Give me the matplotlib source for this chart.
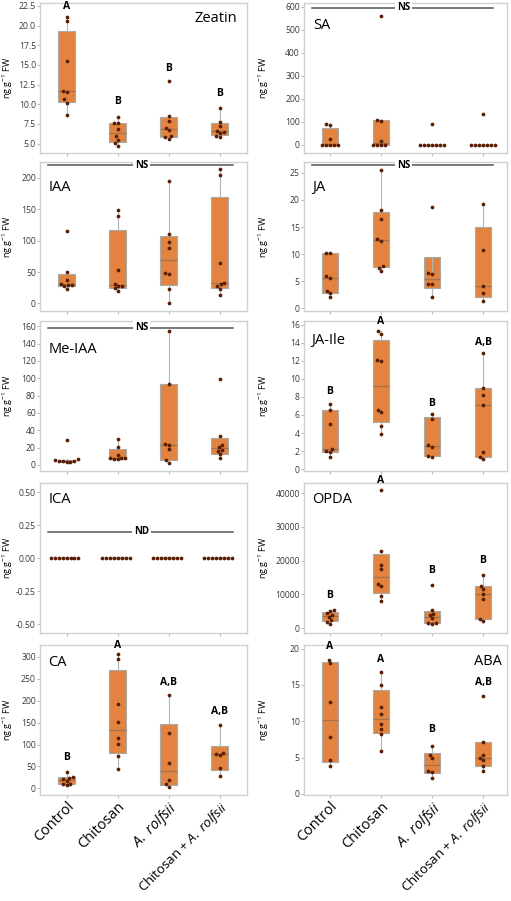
import numpy as np
import pandas as pd
import matplotlib
matplotlib.use('Agg')
import matplotlib.pyplot as plt
import seaborn as sns

plt.rcParams['font.family'] = ['Open Sans', 'DejaVu Sans']
plt.rcParams['mathtext.fontset'] = 'custom'
plt.rcParams['mathtext.rm'] = 'Open Sans'
plt.rcParams['mathtext.it'] = 'Open Sans:italic'
plt.rcParams['mathtext.bf'] = 'Open Sans:bold'

groups = ['Control', 'Chitosan', 'A. rolfsii', 'Chitosan + A. rolfsii']
group_labels = ['Control', 'Chitosan', r'$\mathit{A.}$ $\mathit{rolfsii}$',
                r'Chitosan + $\mathit{A.}$ $\mathit{rolfsii}$']

# hormone levels, ng g-1 FW, one list per treatment
zeatin = [[8.6, 10.2, 10.6, 11.6, 11.7, 15.5, 20.6, 21.1],
          [4.75, 5.05, 5.5, 5.95, 6.85, 7.55, 7.65, 8.4],
          [5.6, 5.8, 6.0, 6.7, 7.0, 7.9, 8.5, 13.0],
          [5.8, 6.0, 6.3, 6.45, 6.65, 7.25, 7.75, 9.5]]
sa = [[0, 0, 0, 0, 0, 25, 87, 90],
      [0, 0, 0, 0, 17, 103, 108, 559],
      [0, 0, 0, 0, 0, 0, 0, 88],
      [0, 0, 0, 0, 0, 0, 0, 135]]
iaa = [[23, 28, 29, 30, 31, 37, 50, 115],
       [20, 24, 27, 28, 31, 53, 139, 148],
       [0, 23.5, 47.5, 49, 88, 97, 111, 194],
       [13, 23.5, 28, 30.5, 33, 65, 205, 214]]
ja = [[2.0, 2.8, 3.2, 5.6, 5.9, 10.2, 10.25],
      [6.9, 7.5, 7.8, 12.4, 12.7, 16.5, 18.2, 25.6],
      [2.1, 4.4, 4.5, 6.4, 6.5, 18.65],
      [1.4, 2.8, 4.15, 10.8, 19.3]]
me_iaa = [[3.3, 3.8, 4.2, 4.5, 4.9, 5.6, 6.3, 28.4],
          [6.3, 6.8, 7.5, 8.1, 8.5, 11.4, 20.9, 30],
          [2.7, 5.3, 17.8, 22.7, 24.6, 92.9, 154],
          [7.6, 12.1, 15.9, 17.5, 20.5, 22.7, 33.7, 98.6]]
ja_ile = [[1.4, 1.85, 2.0, 2.2, 5.05, 6.6, 7.26],
          [3.9, 4.8, 6.3, 6.5, 12.0, 12.1, 15.0, 15.3],
          [1.4, 1.5, 2.5, 2.65, 5.6, 6.1],
          [1.1, 1.4, 1.85, 7.15, 8.25, 9.0, 12.9]]
ica = [[0, 0, 0, 0, 0, 0, 0, 0],
       [0, 0, 0, 0, 0, 0, 0, 0],
       [0, 0, 0, 0, 0, 0, 0, 0],
       [0, 0, 0, 0, 0, 0, 0, 0]]
opda = [[1280, 2000, 2500, 3460, 3800, 4440, 5000, 5430],
        [8100, 9580, 12540, 13040, 17480, 18770, 23000, 40800],
        [1300, 1480, 1700, 3000, 3900, 4250, 5430, 12840],
        [2170, 2700, 8590, 10000, 11650, 12600, 15700]]
ca = [[6.8, 9.5, 11, 17.5, 21.3, 24, 27, 36.5],
      [44.8, 73.7, 101, 115.4, 150.4, 191.4, 294.7, 307.6],
      [3.8, 10, 19, 58.5, 125.3, 212.7],
      [28.9, 46, 76, 79, 80.6, 144.3]]
aba = [[3.85, 4.6, 7.8, 12.6, 18.0, 18.5],
       [5.9, 8.2, 9.0, 9.6, 11.0, 12.0, 15.0, 16.8],
       [2.15, 3.07, 3.1, 4.9, 5.35, 6.6],
       [3.2, 3.84, 4.6, 4.9, 5.35, 7.19, 13.5]]

# significance letters
zeatin_sig = ['A', 'B', 'B', 'B']
ja_ile_sig = ['B', 'A', 'B', 'A,B']
opda_sig = ['B', 'A', 'B', 'B']
ca_sig = ['B', 'A', 'A,B', 'A,B']
aba_sig = ['A', 'A', 'B', 'A,B']

BOX = '#E2843F'
DOT = '#5a1e05'
W, H = 511, 901


def box_stats(vals):
    v = np.sort(np.asarray(vals, float))
    q1, med, q3 = np.percentile(v, [25, 50, 75], method='weibull')
    iqr = q3 - q1
    return dict(med=med, q1=q1, q3=q3,
                whislo=v[v >= q1 - 1.5 * iqr].min(),
                whishi=v[v <= q3 + 1.5 * iqr].max())


def axes_at(x0, x1, top, bottom):
    return fig.add_axes([x0 / W, 1 - bottom / H, (x1 - x0) / W, (bottom - top) / H])


# name, data, col, row, ylim, yticks, fmt, letters, letter heights, NS/ND, name placement
panels = [
    ('Zeatin', zeatin, 0, 0, (3.8, 22.8), np.arange(5, 22.6, 2.5), '%.1f',
     zeatin_sig, [22.4, 10.35, 14.5, 11.35], None, (0.95, 0.9, 'right')),
    ('IAA', iaa, 0, 1, (-12, 225), np.arange(0, 201, 50), '%d',
     None, None, ('NS', 220), (0.04, 0.83, 'left')),
    ('Me-IAA', me_iaa, 0, 2, (-7, 166), np.arange(0, 161, 20), '%d',
     None, None, ('NS', 158.5), (0.04, 0.81, 'left')),
    ('ICA', ica, 0, 3, (-0.565, 0.568), np.arange(-0.5, 0.51, 0.25), '%.2f',
     None, None, ('ND', 0.2), (0.04, 0.89, 'left')),
    ('CA', ca, 0, 4, (-15, 327), np.arange(0, 301, 50), '%d',
     ca_sig, [70.6, 326.6, 240.7, 174.7], None, (0.04, 0.88, 'left')),
    ('SA', sa, 1, 0, (-36, 614), np.arange(0, 601, 100), '%d',
     None, None, ('NS', 595), (0.048, 0.85, 'left')),
    ('JA', ja, 1, 1, (-0.5, 27), np.arange(0, 26, 5), '%d',
     None, None, ('NS', 26.4), (0.04, 0.83, 'left')),
    ('JA-Ile', ja_ile, 1, 2, (-0.2, 16.4), np.arange(0, 17, 2), '%d',
     ja_ile_sig, [8.55, 16.4, 7.26, 14.0], None, (0.035, 0.87, 'left')),
    ('OPDA', opda, 1, 3, (-1400, 43000), np.arange(0, 40001, 10000), '%d',
     opda_sig, [9680, 43600, 17090, 20050], None, (0.04, 0.89, 'left')),
    ('ABA', aba, 1, 4, (-0.15, 20.5), np.arange(0, 21, 5), '%d',
     aba_sig, [20.3, 18.5, 8.88, 15.4], None, (0.975, 0.89, 'right')),
]

col_x = [(40, 247), (304, 507)]
col_xlim = [(-0.52, 3.53), (-0.51, 3.47)]
col_ylab = [-0.12, -0.163]
rows = [(3.5, 153), (162, 311), (321, 471), (483, 633), (645, 795)]
xlab_size = [10.4, 10.4, 10.4, 9.5]

fig = plt.figure(figsize=(W / 100, H / 100), dpi=100)

for name, vals, col, row, ylim, yticks, fmt, sig, sig_y, ns, npos in panels:
    ax = axes_at(col_x[col][0], col_x[col][1], rows[row][0], rows[row][1])
    ax.bxp([box_stats(v) for v in vals], positions=range(4), widths=0.33,
           patch_artist=True, showfliers=False, showcaps=False, manage_ticks=False,
           boxprops=dict(facecolor=BOX, edgecolor='#a9a9a9', linewidth=0.8),
           whiskerprops=dict(color='#b5b5b5', linewidth=0.8),
           medianprops=dict(color='#a5704c', linewidth=0.9))
    df = pd.DataFrame({'group': np.repeat(groups, [len(v) for v in vals]),
                       'value': np.concatenate(vals)})
    sns.swarmplot(data=df, x='group', y='value', order=groups, ax=ax,
                  color=DOT, size=2.7, linewidth=0, zorder=4)

    ax.set_xlim(*col_xlim[col])
    ax.set_ylim(*ylim)
    ax.set_yticks(yticks)
    ax.set_yticklabels([fmt % t for t in yticks])
    ax.set_xticks(range(4))
    if row == 4:
        labs = ax.set_xticklabels(group_labels, rotation=45, ha='right',
                                  rotation_mode='anchor')
        for lab, fs in zip(labs, xlab_size):
            lab.set_fontsize(fs)
    else:
        ax.set_xticklabels([])
    ax.set_xlabel('')
    ax.set_ylabel('ng g$^{-1}$ FW', fontsize=6.5)
    ax.yaxis.set_label_coords(col_ylab[col], 0.5)
    ax.tick_params(axis='y', labelsize=6.2, labelcolor='#3a3a3a', length=2,
                   color='#bbbbbb', pad=1)
    ax.tick_params(axis='x', length=2, color='#bbbbbb', pad=1)
    for s in ax.spines.values():
        s.set_color('#d0d0d0')
        s.set_linewidth(1.0)

    ax.text(npos[0], npos[1], name, transform=ax.transAxes, ha=npos[2],
            va='center', fontsize=10.5)
    if sig is not None:
        for i, (s, y) in enumerate(zip(sig, sig_y)):
            ax.text(i, y, s, ha='center', va='center', fontsize=7.5,
                    fontweight='bold', clip_on=False, zorder=5)
    if ns is not None:
        tr = ax.get_yaxis_transform()
        ax.plot([0.04, 0.93], [ns[1], ns[1]], transform=tr, color='#555555',
                lw=1.1, zorder=3)
        ax.text(0.49, ns[1], ns[0], transform=tr, ha='center', va='center',
                fontsize=7, fontweight='bold', zorder=5,
                bbox=dict(facecolor='white', edgecolor='none', pad=1.5))

fig.savefig('out.png', dpi=100)
